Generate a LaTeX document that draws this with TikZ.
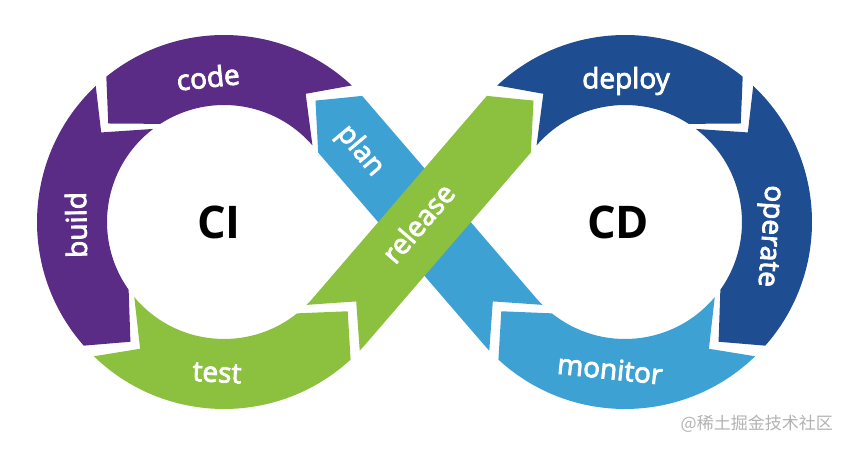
\documentclass[tikz,border=0pt]{standalone}
\usepackage{fontspec}
\setmainfont{Open Sans}
\newfontfamily\stagefont{Open Sans}[FakeBold=3]
\newfontfamily\cjkfont{Noto Sans CJK SC}
\usetikzlibrary{calc}
\definecolor{grape}{HTML}{5B2C86}
\definecolor{lime-green}{HTML}{8CC13F}
\definecolor{navy-blue}{HTML}{1E4D92}
\definecolor{sky-blue}{HTML}{3DA2D3}

\begin{document}
\begin{tikzpicture}[x=1pt, y=1pt,
    word/.style={text=white, inner sep=0pt, font=\stagefont\fontsize{28}{30}\selectfont},
    loopname/.style={text=black, inner sep=0pt, font=\bfseries\fontsize{45}{48}\selectfont}]
    \useasboundingbox (0, 0) rectangle (850, 450);
    \coordinate (L) at (224, 228);
    \coordinate (R) at (625, 228);
    % CI loop
    \fill[grape] ($(L)+(46.9:187)$) arc[start angle=46.9, end angle=129, radius=187] -- ($(L)+(139.6:152)$) -- ($(L)+(123:117)$) arc[start angle=123, end angle=40.9, radius=117] -- ($(L)+(57.5:152)$) -- cycle;
    \fill[grape] ($(L)+(133.3:187)$) arc[start angle=133.3, end angle=221.4, radius=187] -- ($(L)+(232:152)$) -- ($(L)+(215.4:117)$) arc[start angle=215.4, end angle=127.3, radius=117] -- ($(L)+(143.9:152)$) -- cycle;
    \fill[lime-green] ($(L)+(225.9:187)$) arc[start angle=225.9, end angle=312.6, radius=187] -- ($(L)+(-40.7:152)+(49.3:13)$) -- ($(L)+(308.65:117)$) arc[start angle=308.65, end angle=219.9, radius=117] -- ($(L)+(236.5:152)$) -- cycle;
    % CD loop
    \fill[navy-blue] ($(R)+(122.5:152)$) -- ($(R)+(133.1:187)$) arc[start angle=133.1, end angle=51, radius=187] -- ($(R)+(40.4:152)$) -- ($(R)+(57:117)$) arc[start angle=57, end angle=139.1, radius=117] -- cycle;
    \fill[navy-blue] ($(R)+(36.1:152)$) -- ($(R)+(46.7:187)$) arc[start angle=46.7, end angle=-41.4, radius=187] -- ($(R)+(-52:152)$) -- ($(R)+(-35.4:117)$) arc[start angle=-35.4, end angle=52.7, radius=117] -- cycle;
    \fill[sky-blue] ($(R)+(-56.5:152)$) -- ($(R)+(-45.9:187)$) arc[start angle=-45.9, end angle=-132.6, radius=187] -- ($(R)+(220.7:152)+(130.7:13)$) -- ($(R)+(-128.65:117)$) arc[start angle=-128.65, end angle=-39.9, radius=117] -- cycle;
    % crossing bands
    \fill[sky-blue] ($(R)+(220.7:152)+(130.7:26)$) -- ($(R)+(223.46:187)$) arc[start angle=223.46, end angle=220.7, radius=187] -- ($(L)+(36.4:117)$) -- ($(L)+(53:152)$) -- ($(L)+(42.4:187)$) arc[start angle=42.4, end angle=40.7, radius=187] -- ($(R)+(220.7:117)$) arc[start angle=220.7, end angle=225.1, radius=117] -- cycle;
    \fill[lime-green] ($(L)+(-40.7:152)+(49.3:26)$) -- ($(L)+(316.54:187)$) arc[start angle=316.54, end angle=319.3, radius=187] -- ($(R)+(143.6:117)$) -- ($(R)+(127:152)$) -- ($(R)+(137.6:187)$) arc[start angle=137.6, end angle=139.3, radius=187] -- ($(L)+(319.3:117)$) arc[start angle=319.3, end angle=314.9, radius=117] -- cycle;
    % labels
    \node[word, rotate=6] (code) at (208, 373) {code};
    \node[word, rotate=91] (build) at (76, 225) {build};
    \node[word, rotate=-3] (test) at (217, 77) {test};
    \node[word, rotate=49.3] (release) at (418, 227) {release};
    \node[word, rotate=0] (deploy) at (626, 369) {deploy};
    \node[word, rotate=-94] (operate) at (768, 214) {operate};
    \node[word, rotate=-6] (monitor) at (610, 81) {monitor};
    \node[word, rotate=-50] (plan) at (360, 299) {plan};
    \node[loopname] (ci) at (219, 228) {CI};
    \node[loopname] (cd) at (618, 228) {CD};
    \node[anchor=east, inner sep=0pt, text=black!30, font=\cjkfont\fontsize{17}{17}\selectfont] (mark) at (833, 26) {@稀土掘金技术社区};
\end{tikzpicture}
\end{document}
